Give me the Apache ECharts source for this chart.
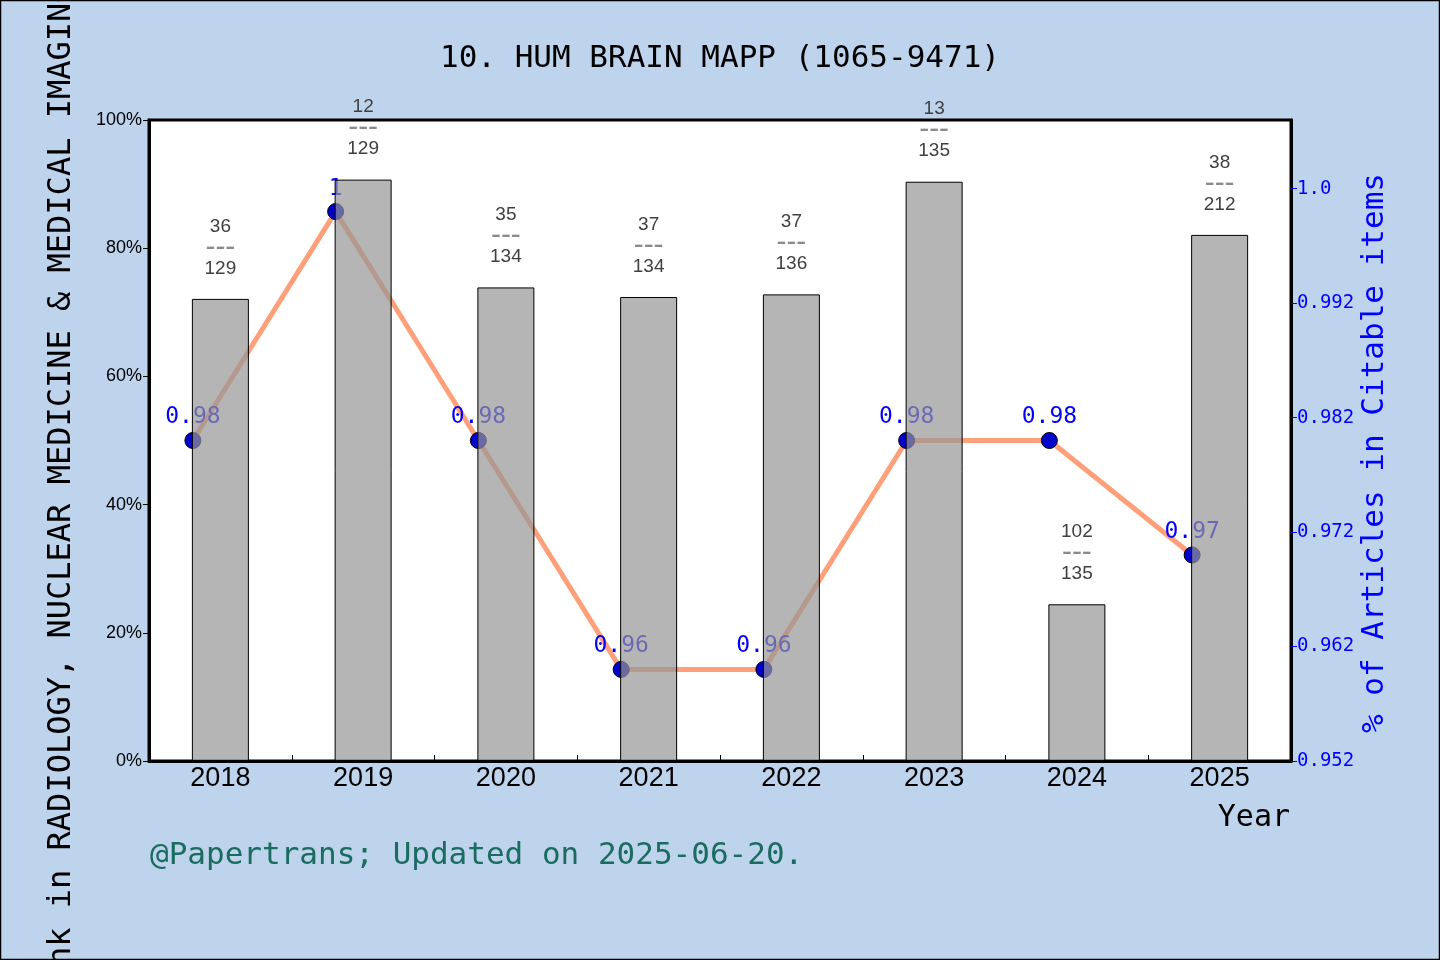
<!DOCTYPE html>
<html><head><meta charset="utf-8">
<script src="https://cdn.jsdelivr.net/npm/echarts@6/dist/echarts.min.js"></script>
<style>html,body{margin:0;padding:0;background:#BED3EC}#c{width:1440px;height:960px}</style>
</head><body><div id="c"></div>
<script>
const years = ['2018','2019','2020','2021','2022','2023','2024','2025'];
const ranks = [36, 12, 35, 37, 37, 13, 102, 38];
const totals = [129, 129, 134, 134, 136, 135, 135, 212];
const citable = [0.98, 1.0, 0.98, 0.96, 0.96, 0.98, 0.98, 0.97];
const citableLabels = ['0.98', '1', '0.98', '0.96', '0.96', '0.98', '0.98', '0.97'];
const rightTickValues = [0.952, 0.962, 0.972, 0.982, 0.992, 1.002];
const rightTickLabels = ['0.952', '0.962', '0.972', '0.982', '0.992', '1.0'];
const titleText = '10. HUM BRAIN MAPP (1065-9471)';
const leftName = 'Rank in RADIOLOGY, NUCLEAR MEDICINE & MEDICAL IMAGING';
const rightName = '% of Articles in Citable items';
const xName = 'Year';
const footer = '@Papertrans; Updated on 2025-06-20.';

const barValues = ranks.map((r, i) => 1 - r / totals[i]);
const MONO = '"DejaVu Sans Mono", monospace';
const SANS = '"Liberation Sans", Arial, sans-serif';

const chart = echarts.init(document.getElementById('c'), null, {renderer: 'canvas'});
chart.setOption({
  animation: false,
  backgroundColor: '#BED3EC',
  title: {
    text: titleText, left: 'center', top: 38,
    textStyle: {fontFamily: MONO, fontSize: 31, fontWeight: 'normal', color: '#000'}
  },
  grid: [
    {left: 149, top: 120, width: 1142, height: 641, show: true, backgroundColor: '#fff', borderColor: '#000', borderWidth: 3},
    {left: 121.5, top: 120, width: 1142, height: 641, show: false}
  ],
  xAxis: [
    {type: 'category', gridIndex: 0, data: years, boundaryGap: true,
     axisLine: {show: true, lineStyle: {color: '#000', width: 3}},
     axisTick: {show: true, inside: true, length: 6, lineStyle: {color: '#000', width: 1}},
     axisLabel: {color: '#000', fontFamily: SANS, fontSize: 27, margin: 4}},
    {type: 'category', gridIndex: 1, data: years, show: false}
  ],
  yAxis: [
    {type: 'value', gridIndex: 0, position: 'left', min: 0, max: 1, interval: 0.2,
     axisLine: {show: true, lineStyle: {color: '#000', width: 3}},
     axisTick: {show: true, length: 6, lineStyle: {color: '#000'}},
     splitLine: {show: false},
     axisLabel: {color: '#000', fontFamily: SANS, fontSize: 18, margin: 7,
       formatter: v => Math.round(v * 100) + '%'}},
    {type: 'value', gridIndex: 0, position: 'right', min: 0.952, max: 1.008,
     axisLine: {show: true, lineStyle: {color: '#000', width: 3}},
     axisTick: {show: true, length: 6, lineStyle: {color: '#0000FF'}, customValues: rightTickValues},
     splitLine: {show: false},
     axisLabel: {color: '#0000FF', fontFamily: MONO, fontSize: 19, margin: 6, customValues: rightTickValues,
       formatter: v => {
         const i = rightTickValues.findIndex(t => Math.abs(t - v) < 1e-6);
         return i >= 0 ? rightTickLabels[i] : '';
       }}},
    {type: 'value', gridIndex: 1, min: 0.952, max: 1.008, show: false}
  ],
  series: [
    {type: 'line', xAxisIndex: 1, yAxisIndex: 2, data: citable, z: 2,
     lineStyle: {color: '#FFA07A', width: 5},
     symbol: 'circle', symbolSize: 16,
     itemStyle: {color: '#0000CD', borderColor: '#000', borderWidth: 1},
     label: {show: true, position: 'top', distance: 3, color: '#0000FF', fontFamily: MONO, fontSize: 23,
       formatter: p => citableLabels[p.dataIndex]}},
    {type: 'bar', xAxisIndex: 0, yAxisIndex: 0, data: barValues, z: 3, barWidth: 57,
     itemStyle: {color: 'rgba(150,150,150,0.7)', borderColor: '#000', borderWidth: 1},
     label: {show: true, position: 'top', distance: 20,
       formatter: p => '{n|' + ranks[p.dataIndex] + '}\n{d|---}\n{n|' + totals[p.dataIndex] + '}',
       rich: {
         n: {color: '#404040', fontFamily: SANS, fontSize: 19, lineHeight: 21},
         d: {color: '#8a8a8a', fontFamily: SANS, fontSize: 30, lineHeight: 21}
       }}}
  ],
  graphic: [
    {type: 'text', x: 62, y: 494, rotation: Math.PI / 2,
     style: {text: leftName, fill: '#000', font: '32px ' + MONO, textAlign: 'center', textVerticalAlign: 'middle'}},
    {type: 'text', x: 1375, y: 453, rotation: Math.PI / 2,
     style: {text: rightName, fill: '#0000FF', font: '31px ' + MONO, textAlign: 'center', textVerticalAlign: 'middle'}},
    {type: 'text', x: 1290, y: 818,
     style: {text: xName, fill: '#000', font: '30px ' + MONO, textAlign: 'right', textVerticalAlign: 'middle'}},
    {type: 'text', x: 150, y: 856,
     style: {text: footer, fill: '#1a6b60', font: '31px ' + MONO, textAlign: 'left', textVerticalAlign: 'middle'}},
    {type: 'rect', shape: {x: 0.5, y: 0.5, width: 1439, height: 959},
     style: {fill: 'none', stroke: '#000', lineWidth: 1.5}, silent: true}
  ]
});
</script></body></html>
